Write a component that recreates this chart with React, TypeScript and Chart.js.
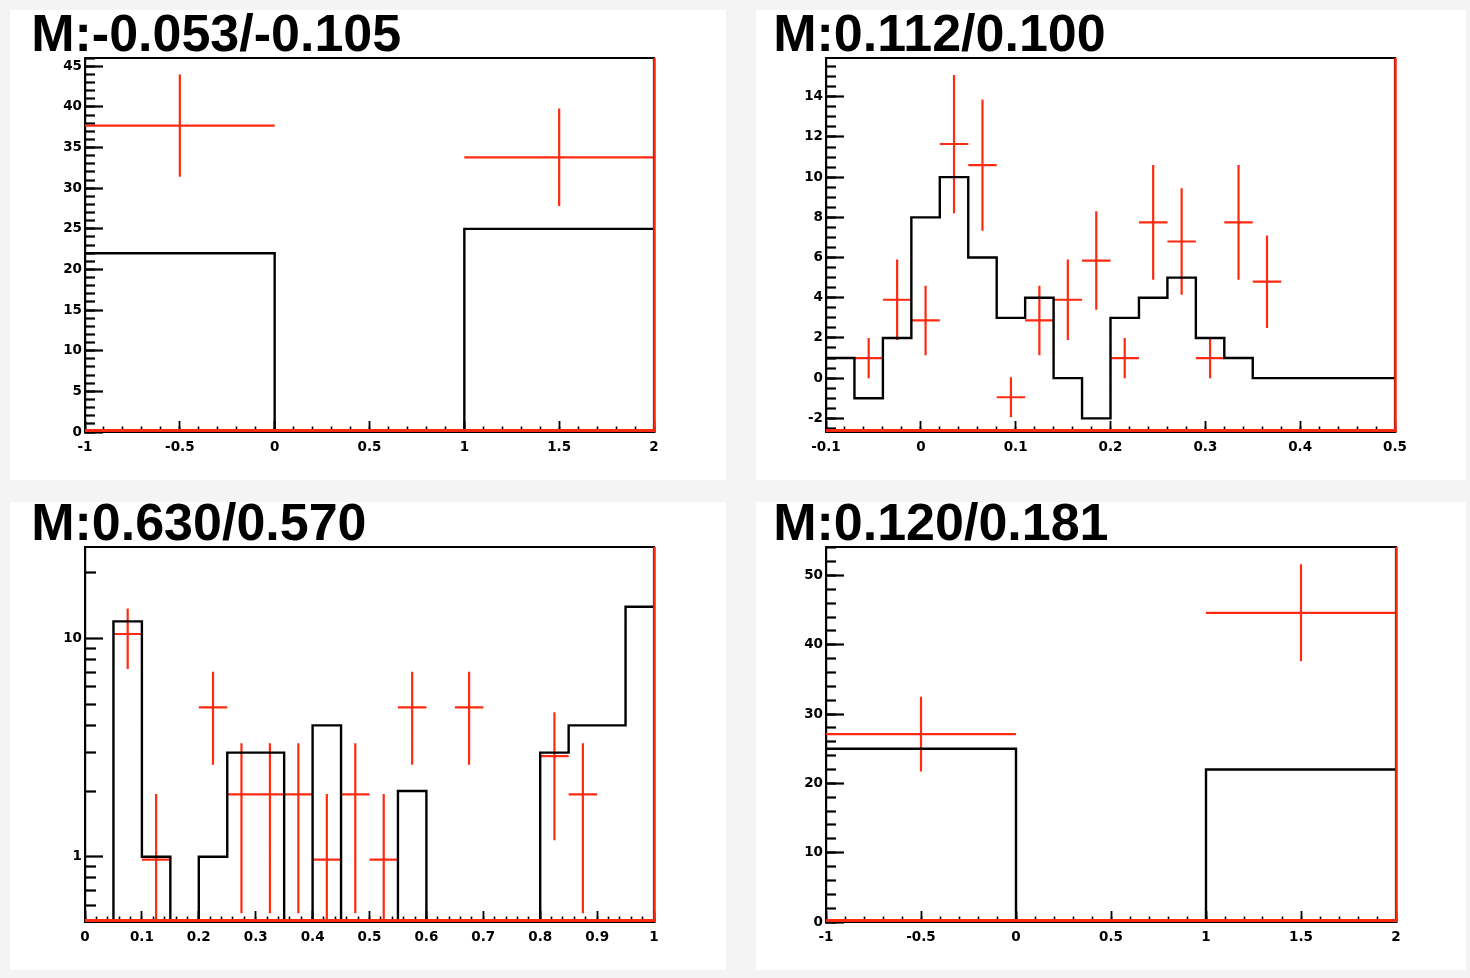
import React, { useEffect, useRef } from "react";
import { Chart, registerables } from "chart.js";

Chart.register(...registerables);

// ---------------- panel 1 (top left) ----------------
const P1_TITLE = "M:-0.053/-0.105";
const P1_BIN_EDGES = [-1, 0, 1, 2];
const P1_MC_COUNTS = [22, 0, 25];
const P1_DATA_X = [-0.5, 1.5];
const P1_DATA_Y = [37.7, 33.8];
const P1_DATA_XERR = [0.5, 0.5];
const P1_DATA_YERR = [6.3, 6.0];
const P1_X_RANGE = [-1, 2];
const P1_Y_RANGE = [0, 46.03];
const P1_X_TICKS = [-1, -0.5, 0, 0.5, 1, 1.5, 2];
const P1_X_TICK_LABELS = ["-1", "-0.5", "0", "0.5", "1", "1.5", "2"];
const P1_Y_TICKS = [0, 5, 10, 15, 20, 25, 30, 35, 40, 45];
const P1_Y_TICK_LABELS = ["0", "5", "10", "15", "20", "25", "30", "35", "40", "45"];
const P1_MINOR_STEPS = [0.1, 1];

// ---------------- panel 2 (top right) ----------------
const P2_TITLE = "M:0.112/0.100";
const P2_BIN_EDGES = [-0.1, -0.07, -0.04, -0.01, 0.02, 0.05, 0.08, 0.11, 0.14, 0.17, 0.2, 0.23, 0.26, 0.29, 0.32, 0.35, 0.38, 0.41, 0.44, 0.47, 0.5];
const P2_MC_COUNTS = [1, -1, 2, 8, 10, 6, 3, 4, 0, -2, 3, 4, 5, 2, 1, 0, 0, 0, 0, 0];
const P2_DATA_X = [-0.055, -0.025, 0.005, 0.035, 0.065, 0.095, 0.125, 0.155, 0.185, 0.215, 0.245, 0.275, 0.305, 0.335, 0.365];
const P2_DATA_Y = [1.0, 3.9, 2.87, 11.65, 10.6, -0.95, 2.87, 3.9, 5.85, 1.0, 7.75, 6.8, 1.0, 7.75, 4.8];
const P2_DATA_XERR = [0.015, 0.015, 0.015, 0.015, 0.015, 0.015, 0.015, 0.015, 0.015, 0.015, 0.015, 0.015, 0.015, 0.015, 0.015];
const P2_DATA_YERR = [1.0, 2.0, 1.73, 3.44, 3.26, 1.0, 1.73, 2.0, 2.45, 1.0, 2.85, 2.65, 1.0, 2.85, 2.3];
const P2_X_RANGE = [-0.1, 0.5];
const P2_Y_RANGE = [-2.68, 15.93];
const P2_X_TICKS = [-0.1, 0, 0.1, 0.2, 0.3, 0.4, 0.5];
const P2_X_TICK_LABELS = ["-0.1", "0", "0.1", "0.2", "0.3", "0.4", "0.5"];
const P2_Y_TICKS = [-2, 0, 2, 4, 6, 8, 10, 12, 14];
const P2_Y_TICK_LABELS = ["-2", "0", "2", "4", "6", "8", "10", "12", "14"];
const P2_MINOR_STEPS = [0.02, 0.5];

// ---------------- panel 3 (bottom left, log y) ----------------
const P3_TITLE = "M:0.630/0.570";
const P3_BIN_EDGES = [0, 0.05, 0.1, 0.15, 0.2, 0.25, 0.3, 0.35, 0.4, 0.45, 0.5, 0.55, 0.6, 0.65, 0.7, 0.75, 0.8, 0.85, 0.9, 0.95, 1];
const P3_MC_COUNTS = [0, 12, 1, 0, 1, 3, 3, 0, 4, 0, 0, 2, 0, 0, 0, 0, 3, 4, 4, 14];
const P3_DATA_X = [0.075, 0.125, 0.225, 0.275, 0.325, 0.375, 0.425, 0.475, 0.525, 0.575, 0.675, 0.825, 0.875];
const P3_DATA_Y = [10.5, 0.97, 4.84, 1.93, 1.93, 1.93, 0.97, 1.93, 0.97, 4.84, 4.84, 2.89, 1.93];
const P3_DATA_XERR = [0.025, 0.025, 0.025, 0.025, 0.025, 0.025, 0.025, 0.025, 0.025, 0.025, 0.025, 0.025, 0.025];
const P3_DATA_YERR = [3.25, 0.97, 2.2, 1.38, 1.38, 1.38, 0.97, 1.38, 0.97, 2.2, 2.2, 1.7, 1.38];
const P3_X_RANGE = [0, 1];
const P3_Y_RANGE = [0.502, 26.3];
const P3_X_TICKS = [0, 0.1, 0.2, 0.3, 0.4, 0.5, 0.6, 0.7, 0.8, 0.9, 1];
const P3_X_TICK_LABELS = ["0", "0.1", "0.2", "0.3", "0.4", "0.5", "0.6", "0.7", "0.8", "0.9", "1"];
const P3_Y_TICKS = [1, 10];
const P3_Y_TICK_LABELS = ["1", "10"];
const P3_Y_MINOR_TICKS = [0.6, 0.7, 0.8, 0.9, 2, 3, 4, 5, 6, 7, 8, 9, 20];
const P3_X_MINOR_STEP = 0.02;

// ---------------- panel 4 (bottom right) ----------------
const P4_TITLE = "M:0.120/0.181";
const P4_BIN_EDGES = [-1, 0, 1, 2];
const P4_MC_COUNTS = [25, 0, 22];
const P4_DATA_X = [-0.5, 1.5];
const P4_DATA_Y = [27.1, 44.6];
const P4_DATA_XERR = [0.5, 0.5];
const P4_DATA_YERR = [5.4, 7.0];
const P4_X_RANGE = [-1, 2];
const P4_Y_RANGE = [0, 54.1];
const P4_X_TICKS = [-1, -0.5, 0, 0.5, 1, 1.5, 2];
const P4_X_TICK_LABELS = ["-1", "-0.5", "0", "0.5", "1", "1.5", "2"];
const P4_Y_TICKS = [0, 10, 20, 30, 40, 50];
const P4_Y_TICK_LABELS = ["0", "10", "20", "30", "40", "50"];
const P4_MINOR_STEPS = [0.1, 2];

// ---------------- layout / style ----------------
const RED = "#ff2a10";
const BLACK = "#000000";
const LOG_FLOOR = 1e-3;
const TITLE_SIZE = 52;
const TITLE_LSB = 3.8;
const TITLE_BASE_FROM_MIDDLE = 14.4;
const TICK_FONT = { family: "'DejaVu Sans', sans-serif", weight: "bold" as const, size: 13.5, lineHeight: 1.2 };
const TITLE_FONT_FAMILY = "'Liberation Sans', Arial, Helvetica, sans-serif";

const GEO1 = { left: 10, top: 10, w: 716, h: 470, plotL: 85, plotT: 58, plotR: 654, plotB: 432, titleInkX: 35, titleBaseline: 51 };
const GEO2 = { left: 756, top: 10, w: 710, h: 470, plotL: 826, plotT: 58, plotR: 1395, plotB: 432, titleInkX: 777, titleBaseline: 51 };
const GEO3 = { left: 10, top: 502, w: 716, h: 468, plotL: 85, plotT: 547, plotR: 654, plotB: 922, titleInkX: 35, titleBaseline: 540.5 };
const GEO4 = { left: 756, top: 502, w: 710, h: 468, plotL: 826, plotT: 547, plotR: 1396, plotB: 922, titleInkX: 777, titleBaseline: 540.5 };

function stepTicks(min: number, max: number, step: number): number[] {
  const out: number[] = [];
  const start = Math.ceil(min / step - 1e-9);
  const end = Math.floor(max / step + 1e-9);
  for (let k = start; k <= end; k++) out.push(+(k * step).toFixed(6));
  return out;
}

const PANELS = [
  {
    title: P1_TITLE, edges: P1_BIN_EDGES, counts: P1_MC_COUNTS,
    dx: P1_DATA_X, dy: P1_DATA_Y, dxe: P1_DATA_XERR, dye: P1_DATA_YERR,
    xRange: P1_X_RANGE, yRange: P1_Y_RANGE,
    xTicks: P1_X_TICKS, xLabels: P1_X_TICK_LABELS, yTicks: P1_Y_TICKS, yLabels: P1_Y_TICK_LABELS,
    xMinor: stepTicks(P1_X_RANGE[0], P1_X_RANGE[1], P1_MINOR_STEPS[0]),
    yMinor: stepTicks(P1_Y_RANGE[0], P1_Y_RANGE[1], P1_MINOR_STEPS[1]),
    log: false, geo: GEO1,
  },
  {
    title: P2_TITLE, edges: P2_BIN_EDGES, counts: P2_MC_COUNTS,
    dx: P2_DATA_X, dy: P2_DATA_Y, dxe: P2_DATA_XERR, dye: P2_DATA_YERR,
    xRange: P2_X_RANGE, yRange: P2_Y_RANGE,
    xTicks: P2_X_TICKS, xLabels: P2_X_TICK_LABELS, yTicks: P2_Y_TICKS, yLabels: P2_Y_TICK_LABELS,
    xMinor: stepTicks(P2_X_RANGE[0], P2_X_RANGE[1], P2_MINOR_STEPS[0]),
    yMinor: stepTicks(P2_Y_RANGE[0], P2_Y_RANGE[1], P2_MINOR_STEPS[1]),
    log: false, geo: GEO2,
  },
  {
    title: P3_TITLE, edges: P3_BIN_EDGES, counts: P3_MC_COUNTS,
    dx: P3_DATA_X, dy: P3_DATA_Y, dxe: P3_DATA_XERR, dye: P3_DATA_YERR,
    xRange: P3_X_RANGE, yRange: P3_Y_RANGE,
    xTicks: P3_X_TICKS, xLabels: P3_X_TICK_LABELS, yTicks: P3_Y_TICKS, yLabels: P3_Y_TICK_LABELS,
    xMinor: stepTicks(P3_X_RANGE[0], P3_X_RANGE[1], P3_X_MINOR_STEP),
    yMinor: P3_Y_MINOR_TICKS,
    log: true, geo: GEO3,
  },
  {
    title: P4_TITLE, edges: P4_BIN_EDGES, counts: P4_MC_COUNTS,
    dx: P4_DATA_X, dy: P4_DATA_Y, dxe: P4_DATA_XERR, dye: P4_DATA_YERR,
    xRange: P4_X_RANGE, yRange: P4_Y_RANGE,
    xTicks: P4_X_TICKS, xLabels: P4_X_TICK_LABELS, yTicks: P4_Y_TICKS, yLabels: P4_Y_TICK_LABELS,
    xMinor: stepTicks(P4_X_RANGE[0], P4_X_RANGE[1], P4_MINOR_STEPS[0]),
    yMinor: stepTicks(P4_Y_RANGE[0], P4_Y_RANGE[1], P4_MINOR_STEPS[1]),
    log: false, geo: GEO4,
  },
];

const framePlugin = {
  id: "rootFrame",
  afterDraw(chart: any) {
    const { ctx, chartArea: a } = chart;
    ctx.save();
    ctx.strokeStyle = BLACK;
    ctx.lineWidth = 2.2;
    ctx.beginPath();
    ctx.moveTo(a.left - 1, a.top);
    ctx.lineTo(a.right, a.top);
    ctx.lineTo(a.right, a.bottom + 1);
    ctx.stroke();
    ctx.strokeStyle = RED;
    ctx.lineWidth = 3;
    ctx.beginPath();
    ctx.moveTo(a.left, a.bottom - 1.5);
    ctx.lineTo(a.right, a.bottom - 1.5);
    ctx.stroke();
    ctx.lineWidth = 2.5;
    ctx.beginPath();
    ctx.moveTo(a.right + 0.5, a.top);
    ctx.lineTo(a.right + 0.5, a.bottom);
    ctx.stroke();
    ctx.restore();
  },
};

function makeConfig(s: any): any {
  const g = s.geo;
  const clampY = (v: number) => (s.log && v <= 0 ? LOG_FLOOR : v);

  const histPts = s.counts.map((c: number, i: number) => ({ x: s.edges[i], y: clampY(c) }));
  histPts.push({ x: s.edges[s.edges.length - 1], y: clampY(s.counts[s.counts.length - 1]) });

  const errPts: any[] = [];
  s.dx.forEach((x: number, i: number) => {
    const y = s.dy[i];
    const ex = s.dxe[i];
    const ey = s.dye[i];
    errPts.push({ x: x - ex, y }, { x: x + ex, y }, { x, y: null });
    errPts.push({ x, y: clampY(y - ey) }, { x, y: y + ey }, { x, y: null });
  });
  const centerPts = s.dx.map((x: number, i: number) => ({ x, y: s.dy[i] }));

  const padLeft = g.titleInkX - g.left - TITLE_LSB;
  const yAxisW = g.plotL - g.left - padLeft;
  const padRight = g.left + g.w - g.plotR;
  const xAxisH = g.top + g.h - g.plotB;
  const titleH = g.plotT - g.top;
  const titlePadTop = g.titleBaseline - g.top - TITLE_BASE_FROM_MIDDLE - TITLE_SIZE / 2;
  const titlePadBottom = titleH - TITLE_SIZE - titlePadTop;

  const yType = s.log ? "logarithmic" : "linear";

  return {
    type: "line",
    data: {
      datasets: [
        {
          data: histPts, stepped: true, borderColor: BLACK, borderWidth: 2.4,
          pointRadius: 0, pointHitRadius: 0, fill: false, tension: 0,
        },
        {
          data: errPts, borderColor: RED, borderWidth: 2.2, pointRadius: 0,
          pointHitRadius: 0, fill: false, spanGaps: false, tension: 0,
        },
        {
          data: centerPts, showLine: false, pointRadius: 1.3, pointBorderWidth: 0,
          pointBackgroundColor: BLACK, pointHitRadius: 0,
        },
      ],
    },
    options: {
      responsive: false,
      maintainAspectRatio: false,
      animation: false,
      events: [],
      layout: { padding: { left: padLeft, top: 0, right: padRight, bottom: 0 } },
      plugins: {
        legend: { display: false },
        tooltip: { enabled: false },
        title: {
          display: true,
          text: s.title,
          align: "start",
          color: BLACK,
          font: { family: TITLE_FONT_FAMILY, size: TITLE_SIZE, weight: "bold", lineHeight: 1 },
          padding: { top: titlePadTop, bottom: titlePadBottom },
        },
      },
      scales: {
        x: {
          type: "linear", position: "bottom", weight: 1, bounds: "data",
          min: s.xRange[0], max: s.xRange[1],
          afterBuildTicks: (sc: any) => { sc.ticks = s.xTicks.map((v: number) => ({ value: v })); },
          afterFit: (sc: any) => { sc.height = xAxisH; },
          ticks: {
            autoSkip: false, maxRotation: 0, minRotation: 0, padding: 18, color: BLACK,
            font: TICK_FONT, callback: (_v: any, i: number) => s.xLabels[i],
          },
          grid: { display: true, drawOnChartArea: false, drawTicks: true, tickLength: -11, tickColor: BLACK, tickWidth: 1.8 },
          border: { display: true, color: BLACK, width: 2 },
        },
        xMinor: {
          type: "linear", position: "bottom", weight: 0, bounds: "data",
          min: s.xRange[0], max: s.xRange[1],
          afterBuildTicks: (sc: any) => { sc.ticks = s.xMinor.map((v: number) => ({ value: v })); },
          afterFit: (sc: any) => { sc.height = 0; },
          ticks: { display: false, autoSkip: false },
          grid: { display: true, drawOnChartArea: false, drawTicks: true, tickLength: -5.5, tickColor: BLACK, tickWidth: 1.6 },
          border: { display: false },
        },
        y: {
          type: yType, position: "left", weight: 1, bounds: "data",
          min: s.yRange[0], max: s.yRange[1],
          afterBuildTicks: (sc: any) => { sc.ticks = s.yTicks.map((v: number) => ({ value: v })); },
          afterFit: (sc: any) => { sc.width = yAxisW; },
          ticks: {
            autoSkip: false, padding: 21, color: BLACK, font: TICK_FONT,
            callback: (_v: any, i: number) => s.yLabels[i],
          },
          grid: { display: true, drawOnChartArea: false, drawTicks: true, tickLength: -18, tickColor: BLACK, tickWidth: 2.2 },
          border: { display: true, color: BLACK, width: 2.2 },
        },
        yMinor: {
          type: yType, position: "left", weight: 0, bounds: "data",
          min: s.yRange[0], max: s.yRange[1],
          afterBuildTicks: (sc: any) => { sc.ticks = s.yMinor.map((v: number) => ({ value: v })); },
          afterFit: (sc: any) => { sc.width = 0; },
          ticks: { display: false, autoSkip: false },
          grid: { display: true, drawOnChartArea: false, drawTicks: true, tickLength: s.log ? -11 : -10, tickColor: BLACK, tickWidth: 2.2 },
          border: { display: false },
        },
      },
    },
    plugins: [framePlugin],
  };
}

function HistPanel({ spec }: { spec: any }) {
  const ref = useRef<HTMLCanvasElement | null>(null);
  useEffect(() => {
    if (!ref.current) return;
    const chart = new Chart(ref.current, makeConfig(spec));
    return () => chart.destroy();
  }, [spec]);
  const g = spec.geo;
  return (
    <div style={{ position: "absolute", left: g.left, top: g.top, width: g.w, height: g.h, background: "#ffffff" }}>
      <canvas ref={ref} width={g.w} height={g.h} style={{ display: "block", width: g.w, height: g.h }} />
    </div>
  );
}

export default function App() {
  return (
    <div style={{ position: "fixed", left: 0, top: 0, width: 1470, height: 978, background: "#f4f4f4", overflow: "hidden" }}>
      {PANELS.map((p, i) => (
        <HistPanel key={i} spec={p} />
      ))}
    </div>
  );
}
